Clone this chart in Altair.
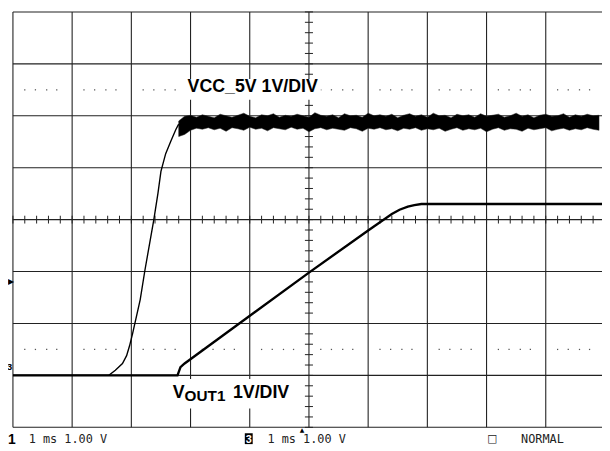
import altair as alt
import pandas as pd

# ---------------- data (time in ms, 1 ms/div; volts, 1 V/div) ----------------
X_DOMAIN = [0, 9.95]
Y_DOMAIN = [-1, 7]

grid_x = [0, 1, 2, 3, 4, 5, 6, 7, 8, 9]
grid_y = [-1, 0, 1, 2, 3, 4, 5, 6, 7]
center_x = 5
center_y = 3
dot_levels = [0.5, 5.5]
dot_fracs = [0.2, 0.38, 0.57, 0.74]

# VCC_5V rising edge
vcc_t = [0, 1.62, 1.73, 1.85, 1.92, 1.97, 2.02, 2.15, 2.23, 2.38, 2.45, 2.50,
         2.58, 2.67, 2.75, 2.80]
vcc_v = [0, 0, 0.10, 0.23, 0.38, 0.57, 0.80, 1.46, 2.03, 3.00, 3.51, 3.93,
         4.27, 4.52, 4.73, 4.84]

# VCC_5V settled (noisy band: upper / lower envelope)
noise_hi = [4.90, 4.99, 5.01, 4.97, 5.02, 4.99, 4.96, 5.03, 5.00, 4.97,
            5.01, 5.05, 4.99, 4.96, 5.02, 5.00, 5.04, 4.97, 5.01, 4.99,
            5.03, 5.00, 4.97, 5.06, 5.01, 4.99, 5.02, 4.96, 5.04, 5.00,
            5.01, 4.97, 5.05, 5.00, 5.02, 4.99, 5.03, 4.96, 5.01, 5.04,
            4.99, 5.02, 4.97, 5.05, 5.00, 5.01, 4.96, 5.03, 5.00, 5.02,
            4.97, 5.04, 4.99, 5.01, 5.03, 4.97, 5.00, 5.05, 4.99, 5.02,
            4.96, 5.01, 5.03, 4.99, 5.00, 5.04, 4.97, 5.02, 4.99, 5.03,
            5.00, 5.01]
noise_lo = [4.60, 4.64, 4.72, 4.76, 4.74, 4.77, 4.73, 4.76, 4.70, 4.77,
            4.75, 4.72, 4.78, 4.74, 4.76, 4.71, 4.77, 4.75, 4.73, 4.78,
            4.74, 4.76, 4.69, 4.75, 4.77, 4.73, 4.76, 4.74, 4.72, 4.77,
            4.75, 4.70, 4.76, 4.74, 4.77, 4.73, 4.75, 4.71, 4.76, 4.74,
            4.77, 4.72, 4.75, 4.73, 4.76, 4.70, 4.74, 4.77, 4.72, 4.75,
            4.73, 4.76, 4.69, 4.74, 4.77, 4.72, 4.75, 4.74, 4.70, 4.76,
            4.73, 4.75, 4.77, 4.71, 4.74, 4.76, 4.72, 4.75, 4.73, 4.77,
            4.74, 4.72]
noise_t = [round(2.8 + 0.1 * i, 2) for i in range(len(noise_hi))]

# VOUT1 soft-start ramp
vout_t = [0, 2.78, 2.83, 2.90, 5.0, 6.0, 6.4, 6.53, 6.67, 6.78, 6.9, 9.95]
vout_v = [0, 0, 0.16, 0.23, 1.98, 2.79, 3.11, 3.19, 3.25, 3.28, 3.30, 3.30]

W, H = 597, 421

xs = alt.Scale(domain=X_DOMAIN, nice=False, zero=False)
ys = alt.Scale(domain=Y_DOMAIN, nice=False, zero=False)

def X(f):
    return alt.X(f + ":Q", scale=xs, axis=None)

def Y(f):
    return alt.Y(f + ":Q", scale=ys, axis=None)

GRID = "#222"

vgrid = alt.Chart(pd.DataFrame({"gx": grid_x})).mark_rule(
    color=GRID, strokeWidth=1.1).encode(x=X("gx"), y=alt.value(0), y2=alt.value(H))
hgrid = alt.Chart(pd.DataFrame({"gy": grid_y})).mark_rule(
    color=GRID, strokeWidth=1.1).encode(y=Y("gy"), x=alt.value(0), x2=alt.value(W))

tx = [round(0.2 * k, 2) for k in range(50)]
xticks = alt.Chart(pd.DataFrame({"tx": tx, "a": [center_y - 0.075] * len(tx),
                                 "b": [center_y + 0.075] * len(tx)})).mark_rule(
    color=GRID, strokeWidth=1).encode(x=X("tx"), y=Y("a"), y2="b:Q")
ty = [round(-1 + 0.2 * k, 2) for k in range(41)]
yticks = alt.Chart(pd.DataFrame({"ty": ty, "a": [center_x - 0.068] * len(ty),
                                 "b": [center_x + 0.068] * len(ty)})).mark_rule(
    color=GRID, strokeWidth=1).encode(y=Y("ty"), x=X("a"), x2="b:Q")

dots_rows = [{"dx": i + f, "dy": lv} for lv in dot_levels for i in range(10) for f in dot_fracs]
dots = alt.Chart(pd.DataFrame(dots_rows)).mark_square(
    size=1.6, color="#555", opacity=1).encode(x=X("dx"), y=Y("dy"))

# label background boxes (white, hide grid behind text)
box_vcc = alt.Chart(pd.DataFrame({"k": [0]})).mark_rect(color="white").encode(
    x=alt.value(174), x2=alt.value(312), y=alt.value(68), y2=alt.value(89))
box_vout = alt.Chart(pd.DataFrame({"k": [0]})).mark_rect(color="white").encode(
    x=alt.value(159), x2=alt.value(287), y=alt.value(372), y2=alt.value(402))

noise = alt.Chart(pd.DataFrame({"t": noise_t, "hi": noise_hi, "lo": noise_lo})).mark_area(
    color="#000", clip=True, stroke="#222", strokeWidth=0.5, interpolate="linear").encode(
    x=X("t"), y=Y("hi"), y2="lo:Q")

vcc = alt.Chart(pd.DataFrame({"t": vcc_t, "v": vcc_v})).mark_line(
    color="#000", strokeWidth=1.4, clip=True).encode(x=X("t"), y=Y("v"))

vout = alt.Chart(pd.DataFrame({"t": vout_t, "v": vout_v})).mark_line(
    color="#000", strokeWidth=2.4, clip=True).encode(x=X("t"), y=Y("v"))

def txt(s, x, y, size, weight="normal", font="Liberation Sans", color="#000",
        align="left", baseline="alphabetic"):
    return alt.Chart(pd.DataFrame({"s": [s]})).mark_text(
        text=s, fontSize=size, fontWeight=weight, font=font, color=color,
        align=align, baseline=baseline).encode(x=alt.value(x), y=alt.value(y))

labels = [
    txt("VCC_5V 1V/DIV", 177, 81, 18, "bold"),
    txt("V", 162, 391, 18, "bold"),
    txt("OUT1", 174, 394, 15.5, "bold"),
    txt("1V/DIV", 223, 391, 18, "bold"),
]

MONO = "DejaVu Sans Mono"
inv_box = alt.Chart(pd.DataFrame({"k": [0]})).mark_rect(color="#000").encode(
    x=alt.value(235), x2=alt.value(243), y=alt.value(427), y2=alt.value(438))

outside = [
    txt("\u25B6", -5, 274, 8, align="left", baseline="middle", font="DejaVu Sans"),
    txt("3", -3.5, 360, 10, "bold", align="center", baseline="middle"),
    txt("1", -5, 437.5, 14, "bold", align="left"),
    txt("1 ms 1.00 V", 16, 436.5, 12, font=MONO, color="#222"),
    inv_box,
    txt("3", 239, 436.5, 11, "bold", color="white", align="center"),
    txt("1 ms 1.00 V", 258, 437, 12, font=MONO, color="#222"),
    txt("\u25B2", 293, 423.5, 6, align="center", baseline="middle", font="DejaVu Sans"),
    txt("\u25A1", 486, 436, 11, font="DejaVu Sans", align="center", color="#222"),
    txt("NORMAL", 515, 436.5, 12, font=MONO, color="#222"),
]

chart = alt.layer(
    vgrid, hgrid, xticks, yticks, dots, box_vcc, box_vout,
    noise, vcc, vout, *labels, *outside
).properties(
    width=W, height=H,
    autosize=alt.AutoSizeParams(type="none"),
    padding={"left": 5, "top": 1, "right": 0, "bottom": 20},
    background="white",
).configure_view(strokeWidth=0)

chart.save("out.html", embed_options={"renderer": "svg", "actions": False})
